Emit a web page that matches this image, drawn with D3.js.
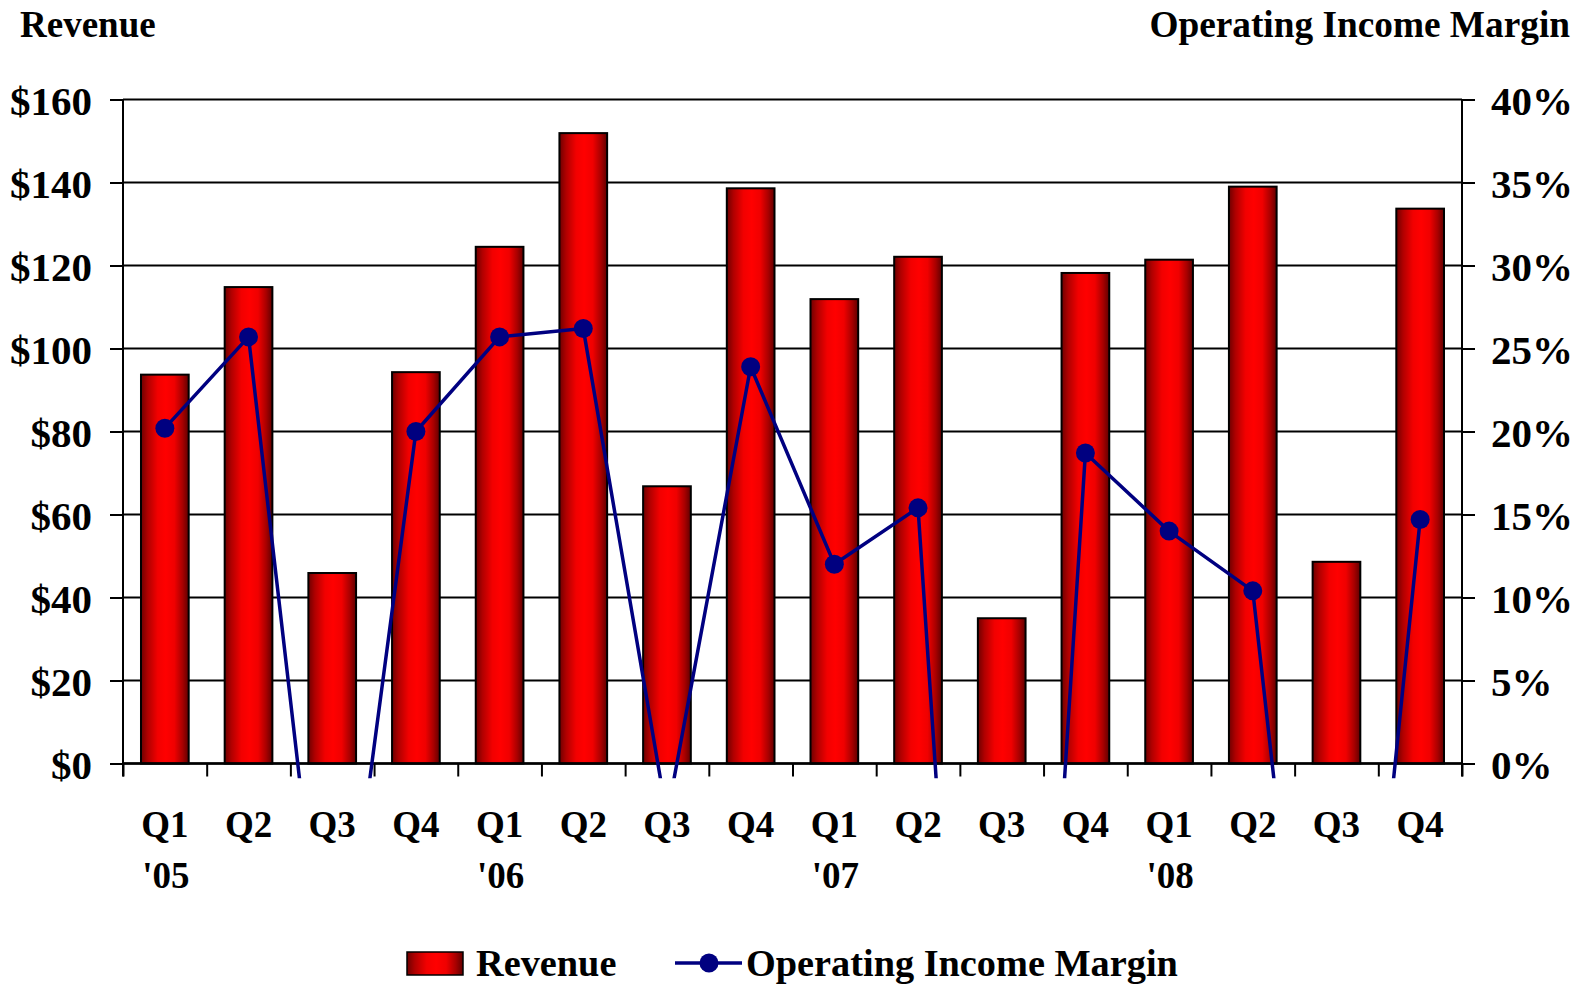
<!DOCTYPE html>
<html>
<head>
<meta charset="utf-8">
<script src="https://cdn.jsdelivr.net/npm/d3@7"></script>
<style>
  html, body { margin: 0; padding: 0; background: #fff; }
  svg { display: block; }
  text { font-family: "Liberation Serif", "Times New Roman", serif; font-weight: bold; fill: #000; }
</style>
</head>
<body>
<svg id="chart" width="1576" height="984"></svg>
<script>
// ---- data ----
const quarters = ["Q1","Q2","Q3","Q4","Q1","Q2","Q3","Q4","Q1","Q2","Q3","Q4","Q1","Q2","Q3","Q4"];
const years    = ["'05","","","","'06","","","","'07","","","","'08","","",""];
const revenue  = [93.7, 114.8, 45.9, 94.3, 124.5, 151.9, 66.8, 138.6, 111.9, 122.1, 35.0, 118.2, 121.4, 139.0, 48.6, 133.7];
const opMargin = [20.2, 25.7, -18.0, 20.0, 25.7, 26.2, -3.2, 23.9, 12.0, 15.4, -60.0, 18.7, 14.0, 10.4, -34.5, 14.7];
const revenueTicks = [0, 20, 40, 60, 80, 100, 120, 140, 160];
const marginTicks  = [0, 5, 10, 15, 20, 25, 30, 35, 40];
const seriesNames = ["Revenue", "Operating Income Margin"];

// ---- layout ----
const L = 123, R = 1462, T = 99.5, B = 763.5;
const svg = d3.select("#chart");
const defs = svg.append("defs");

const grad = defs.append("linearGradient").attr("id", "barGrad")
  .attr("x1", "0").attr("x2", "1").attr("y1", "0").attr("y2", "0");
[[0, "#6e0000"], [0.14, "#b00000"], [0.35, "#f20000"], [0.52, "#ff0000"], [0.7, "#f00000"], [0.87, "#a80000"], [1, "#600000"]]
  .forEach(([o, c]) => grad.append("stop").attr("offset", o).attr("stop-color", c));

defs.append("clipPath").attr("id", "lineClip")
  .append("rect").attr("x", L - 20).attr("y", T - 20).attr("width", R - L + 40).attr("height", 778.3 - (T - 20));

const idx = d3.range(quarters.length);
const x = d3.scaleBand().domain(idx).range([L, R]).paddingInner(0.43).paddingOuter(0.215);
const xEdges = d3.scaleLinear().domain([0, quarters.length]).range([L, R]);
const yL = d3.scaleLinear().domain([0, 160]).range([B, T]);
const yR = d3.scaleLinear().domain([0, 40]).range([B, T]);

// gridlines
svg.append("g").selectAll("line").data(revenueTicks).join("line")
  .attr("x1", L).attr("x2", R)
  .attr("y1", d => yL(d)).attr("y2", d => yL(d))
  .attr("stroke", "#000").attr("stroke-width", 2);

// bars
svg.append("g").selectAll("rect").data(revenue).join("rect")
  .attr("x", (d, i) => x(i))
  .attr("width", x.bandwidth())
  .attr("y", d => yL(d))
  .attr("height", d => yL(0) - yL(d))
  .attr("fill", "url(#barGrad)")
  .attr("stroke", "#000").attr("stroke-width", 2);

// axes
const leftAxis = d3.axisLeft(yL).tickValues(revenueTicks).tickSize(13).tickPadding(18)
  .tickFormat(d => "$" + d);
const gl = svg.append("g").attr("transform", `translate(${L},0)`).call(leftAxis);
gl.select(".domain").remove();
gl.selectAll(".tick line").attr("stroke", "#000").attr("stroke-width", 2);
gl.selectAll(".tick text").attr("font-size", 41).attr("dy", "0.36em")
  .attr("font-family", "Liberation Serif, Times New Roman, serif").attr("font-weight", "bold");

const rightAxis = d3.axisRight(yR).tickValues(marginTicks).tickSize(13).tickPadding(16)
  .tickFormat(d => d + "%");
const gr = svg.append("g").attr("transform", `translate(${R},0)`).call(rightAxis);
gr.select(".domain").remove();
gr.selectAll(".tick line").attr("stroke", "#000").attr("stroke-width", 2);
gr.selectAll(".tick text").attr("font-size", 41).attr("dy", "0.36em")
  .attr("font-family", "Liberation Serif, Times New Roman, serif").attr("font-weight", "bold");

const bottomAxis = d3.axisBottom(xEdges).tickValues(d3.range(quarters.length + 1)).tickSize(13).tickFormat("");
const gb = svg.append("g").attr("transform", `translate(0,${B})`).call(bottomAxis);
gb.select(".domain").remove();
gb.selectAll(".tick line").attr("stroke", "#000").attr("stroke-width", 2);

// axis lines
svg.append("line").attr("x1", L).attr("x2", L).attr("y1", T).attr("y2", B + 13).attr("stroke", "#000").attr("stroke-width", 2);
svg.append("line").attr("x1", R).attr("x2", R).attr("y1", T).attr("y2", B + 13).attr("stroke", "#000").attr("stroke-width", 2);
svg.append("line").attr("x1", L).attr("x2", R).attr("y1", B).attr("y2", B).attr("stroke", "#000").attr("stroke-width", 2.5);

// x labels
const xc = i => x(i) + x.bandwidth() / 2;
svg.append("g").selectAll("text").data(quarters).join("text")
  .attr("x", (d, i) => xc(i)).attr("y", 837).attr("text-anchor", "middle")
  .attr("font-size", 37).text(d => d);
svg.append("g").selectAll("text").data(years).join("text")
  .attr("x", (d, i) => xc(i) + 1).attr("y", 888).attr("text-anchor", "middle")
  .attr("font-size", 37).text(d => d);

// line
const lineGen = d3.line().x((d, i) => xc(i)).y(d => yR(d));
const lg = svg.append("g").attr("clip-path", "url(#lineClip)");
lg.append("path").datum(opMargin).attr("d", lineGen)
  .attr("fill", "none").attr("stroke", "#000080").attr("stroke-width", 3.5).attr("stroke-linejoin", "round");
lg.selectAll("circle").data(opMargin).join("circle")
  .attr("cx", (d, i) => xc(i)).attr("cy", d => yR(d)).attr("r", 9.5)
  .attr("fill", "#000080");

// titles
svg.append("text").attr("x", 20).attr("y", 37).attr("font-size", 37).text("Revenue");
svg.append("text").attr("x", 1570).attr("y", 37).attr("font-size", 37.3).attr("text-anchor", "end").text("Operating Income Margin");

// legend
const lgd = svg.append("g");
lgd.append("rect").attr("x", 407).attr("y", 952).attr("width", 56).attr("height", 23)
  .attr("fill", "url(#barGrad)").attr("stroke", "#000").attr("stroke-width", 1.5);
lgd.append("text").attr("x", 476).attr("y", 976).attr("font-size", 38.3).text(seriesNames[0]);
lgd.append("line").attr("x1", 675).attr("x2", 742).attr("y1", 963).attr("y2", 963)
  .attr("stroke", "#000080").attr("stroke-width", 3.5);
lgd.append("circle").attr("cx", 709).attr("cy", 963).attr("r", 9.5).attr("fill", "#000080");
lgd.append("text").attr("x", 746).attr("y", 976).attr("font-size", 38.3).text(seriesNames[1]);
</script>
</body>
</html>
